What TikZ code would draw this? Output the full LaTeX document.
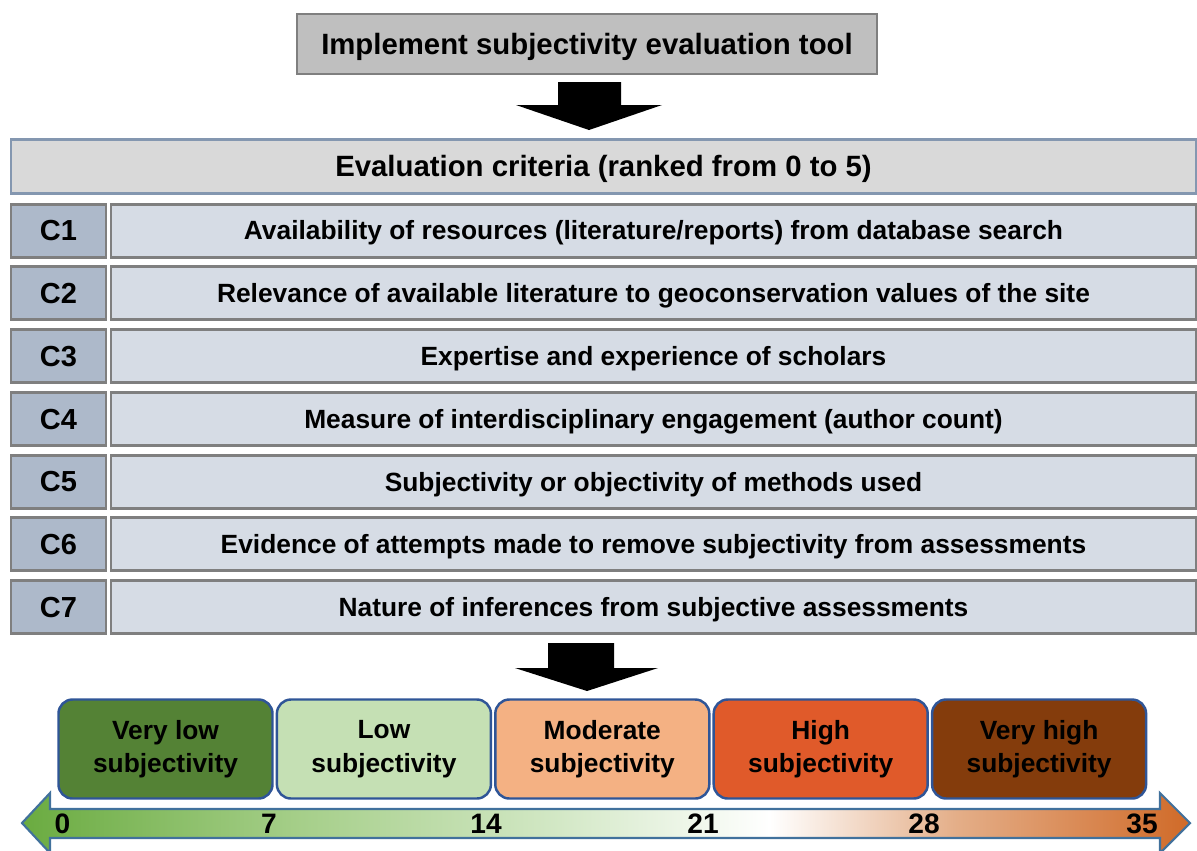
\documentclass[tikz,border=0pt]{standalone}
\usepackage{fontspec}
\setmainfont{Liberation Sans}
\usetikzlibrary{positioning}
\definecolor{toolfill}{HTML}{BFBFBF}
\definecolor{linegray}{HTML}{7F7F7F}
\definecolor{headfill}{HTML}{D9D9D9}
\definecolor{headline}{HTML}{8497B0}
\definecolor{labfill}{HTML}{ADB9CA}
\definecolor{critfill}{HTML}{D6DCE5}
\definecolor{levline}{HTML}{2F5597}
\definecolor{vlowfill}{HTML}{548235}
\definecolor{lowfill}{HTML}{C5E0B4}
\definecolor{modfill}{HTML}{F4B183}
\definecolor{highfill}{HTML}{E05A2A}
\definecolor{vhighfill}{HTML}{843C0C}
\definecolor{scaleline}{HTML}{41719C}
\definecolor{sgA}{HTML}{6AAB40}
\definecolor{sgB}{HTML}{A6CF8A}
\definecolor{sgC}{HTML}{D3E8C6}
\definecolor{soA}{HTML}{E4AE88}
\definecolor{soB}{HTML}{D06A28}
\pgfdeclarehorizontalshading{scaleshade}{100bp}{color(0bp)=(sgA); color(25bp)=(sgA);
  color(37bp)=(sgB); color(48bp)=(sgC); color(57bp)=(white); color(65bp)=(soA);
  color(75bp)=(soB); color(100bp)=(soB)}

\begin{document}
\begin{tikzpicture}[x=0.02cm,y=-0.02cm,font=\bfseries,
  oneline/.style={text height=#1,text depth=0pt},
  tool/.style={oneline=12pt,draw=linegray,fill=toolfill,line width=1.2pt,font=\fontsize{16.7}{19}\bfseries},
  head/.style={oneline=12pt,draw=headline,fill=headfill,line width=1.7pt,font=\fontsize{16.7}{19}\bfseries},
  lab/.style={oneline=11.9pt,draw=linegray,fill=labfill,line width=1.7pt,minimum width=95*0.02cm,minimum height=53*0.02cm,font=\fontsize{16.5}{19}\bfseries},
  crit/.style={oneline=10.8pt,draw=linegray,fill=critfill,line width=1.7pt,minimum width=1085*0.02cm,minimum height=53*0.02cm,font=\fontsize{15}{18}\bfseries},
  level/.style={draw=levline,line width=1.4pt,rounded corners=8pt,minimum width=214*0.02cm,minimum height=99*0.02cm,align=center,font=\fontsize{15}{19}\bfseries},
  num/.style={oneline=11.5pt,font=\fontsize{16}{18}\bfseries},
  blockarrow/.style={fill=black}]
\useasboundingbox (0,0) rectangle (1197,850);
\node[tool,minimum width=580*0.02cm,minimum height=60*0.02cm] (impl) at (587,44) {Implement subjectivity evaluation tool};
\fill[blockarrow] (558,82) -- (621,82) -- (621,105) -- (662,105) -- (589,130) -- (516,105) -- (558,105) -- cycle;
\node[head,minimum width=1185*0.02cm,minimum height=54*0.02cm] (crit) at (603.5,166) {Evaluation criteria (ranked from 0 to 5)};
% criteria rows
\foreach \i/\txt [count=\k from 0] in {
  1/{Availability of resources (literature/reports) from database search},
  2/{Relevance of available literature to geoconservation values of the site},
  3/{Expertise and experience of scholars},
  4/{Measure of interdisciplinary engagement (author count)},
  5/{Subjectivity or objectivity of methods used},
  6/{Evidence of attempts made to remove subjectivity from assessments},
  7/{Nature of inferences from subjective assessments}}{
  \node[lab] (c\i) at (58.5,{230.5+62.75*\k}) {C\i};
  \node[crit] (t\i) at (653.5,{230.5+62.75*\k}) {\txt};
}
\fill[blockarrow] (548,643) -- (614,643) -- (614,668) -- (658,668) -- (587,691) -- (515,668) -- (548,668) -- cycle;
% score scale
\shadedraw[shading=scaleshade,draw=scaleline,line width=1.2pt] (22,823) -- (50,793) -- (50,809) -- (1160,809) -- (1160,793)
  -- (1190,823) -- (1160,853) -- (1160,838) -- (50,838) -- (50,853) -- cycle;
\foreach \n/\col/\txt [count=\k from 0] in {
  vlow/vlowfill/{Very low\\subjectivity},
  low/lowfill/{Low\\subjectivity},
  mod/modfill/{Moderate\\subjectivity},
  high/highfill/{High\\subjectivity},
  vhigh/vhighfill/{Very high\\subjectivity}}
  \node[level,fill=\col] (\n) at ({165.5+218.4*\k},749) {\txt};
\foreach \v/\x in {0/62.5,7/269,14/486,21/703,28/924,35/1142}
  \node[num] (n\v) at (\x,823) {\v};
\end{tikzpicture}
\end{document}
